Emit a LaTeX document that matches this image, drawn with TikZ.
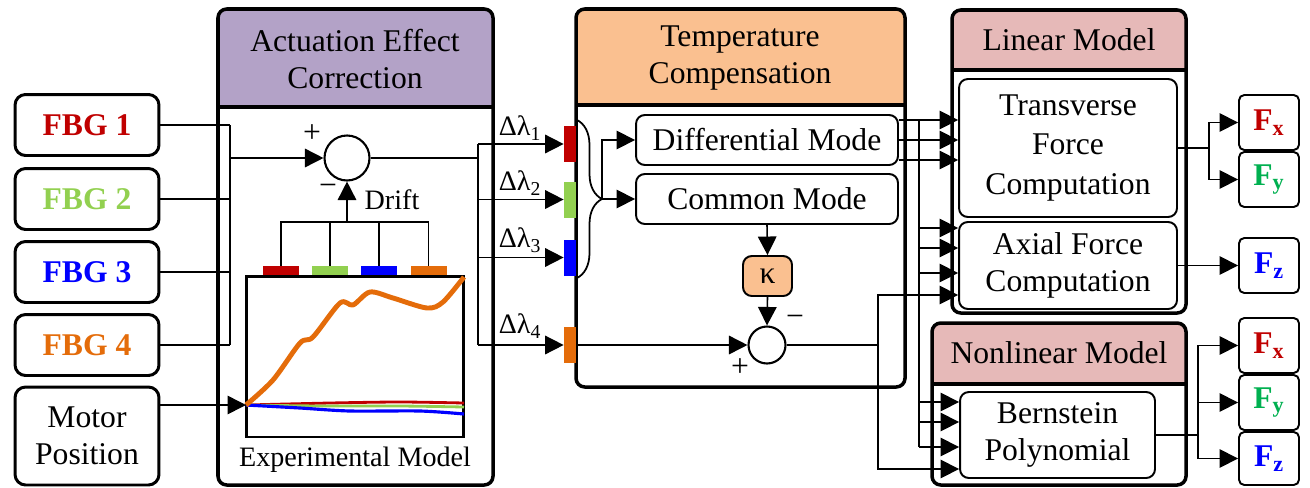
\documentclass[tikz,border=0pt]{standalone}
\usepackage{fontspec}
\setmainfont{Liberation Serif}
\usetikzlibrary{arrows.meta,decorations.pathreplacing,calc}

\definecolor{fbgred}{HTML}{C00000}
\definecolor{fbggreen}{HTML}{92D050}
\definecolor{fbgblue}{HTML}{0000FF}
\definecolor{fbgorange}{HTML}{E46C0A}
\definecolor{fgreen}{HTML}{00B050}
\definecolor{aechead}{HTML}{B3A2C7}
\definecolor{tchead}{HTML}{FAC090}
\definecolor{modhead}{HTML}{E6B9B8}

% box with a coloured title band: x1,y1,x2,y2,ysep,colour
\newcommand{\headbox}[6]{%
  \begin{scope}
    \clip[rounded corners=5pt] (#1,#2) rectangle (#3,#4);
    \fill[#6] (#1,#2) rectangle (#3,#5);
  \end{scope}
  \draw[line width=2pt] (#1,#5) -- (#3,#5);
  \draw[line width=2pt,rounded corners=5pt] (#1,#2) rectangle (#3,#4);
}

\begin{document}
\begin{tikzpicture}[x=0.02cm,y=-0.02cm,font=\fontsize{18}{21}\selectfont,
  arr/.style={-{Triangle[length=0.37cm,width=0.37cm]},line width=0.9pt},
  line/.style={line width=0.9pt},
  fbgbox/.style={draw,line width=1.7pt,rounded corners=6pt,minimum width=2.88cm,minimum height=1.22cm,font=\fontsize{18}{21}\selectfont\bfseries},
  inbox/.style={draw,line width=1.1pt,rounded corners=5pt,fill=white,align=center,inner sep=0pt},
  outbox/.style={draw,line width=1.1pt,rounded corners=3pt,minimum width=1.2cm,minimum height=1.1cm,inner sep=0pt,font=\fontsize{18}{21}\selectfont\bfseries},
  tab/.style={minimum width=0.24cm,minimum height=0.72cm,inner sep=0pt},
  bar/.style={minimum width=0.72cm,minimum height=0.18cm,inner sep=0pt},
  sum/.style={draw,circle,line width=1.2pt,inner sep=0pt},
  small/.style={font=\fontsize{16}{18}\selectfont}]
  \useasboundingbox (0,0) rectangle (1310,487);

  % frames
  \headbox{218}{9}{493}{485}{107}{aechead}
  \headbox{576}{9}{905}{387}{105}{tchead}
  \headbox{952}{10}{1186}{313}{70}{modhead}
  \headbox{932}{323}{1186}{485}{384}{modhead}
  \node[align=center] (aect) at (355,59) {Actuation Effect\\Correction};
  \node[align=center] (tct) at (740,58) {Temperature\\Compensation};
  \node (lint) at (1069,40) {Linear Model};
  \node (nlint) at (1059,353) {Nonlinear Model};

  % inputs
  \node[fbgbox,text=fbgred] (fbg1) at (87,125) {FBG 1};
  \node[fbgbox,text=fbggreen] (fbg2) at (87,199) {FBG 2};
  \node[fbgbox,text=fbgblue] (fbg3) at (87,272) {FBG 3};
  \node[fbgbox,text=fbgorange] (fbg4) at (87,345) {FBG 4};
  \node[fbgbox,minimum height=1.96cm,align=center,font=\fontsize{18}{21}\selectfont] (motor) at (87,436) {Motor\\Position};

  % actuation effect correction
  \node[sum,minimum size=0.9cm] (sum1) at (347,158) {};
  \node (p1) at (312,134) {+};
  \node (m1) at (328,190) {−};
  \node[small] (drift) at (392,200) {Drift};
  \node[draw,line width=1.7pt,minimum width=4.36cm,minimum height=3.22cm,inner sep=0pt] (expm) at (355,356.5) {};
  \node[small] (expl) at (355,460) {Experimental Model};
  \node[bar,fill=fbgred] (bar1) at (281,270.5) {};
  \node[bar,fill=fbggreen] (bar2) at (330,270.5) {};
  \node[bar,fill=fbgblue] (bar3) at (379,270.5) {};
  \node[bar,fill=fbgorange] (bar4) at (428.5,270.5) {};
  \coordinate (origin) at (246,405);
  \draw[fbgred,line width=1.6pt] plot[smooth] coordinates {(origin) (330,403) (400,402) (464,403)};
  \draw[fbggreen,line width=1.6pt] plot[smooth] coordinates {(origin) (320,406) (400,406) (464,407)};
  \draw[fbgblue,line width=1.8pt] plot[smooth] coordinates {(origin) (300,408) (350,411) (420,411) (464,414)};
  \draw[fbgorange,line width=2.8pt,line join=round] plot[smooth] coordinates {(origin) (273,380) (300,343) (313,337) (340,303) (353,305) (370,292) (393,298) (427,308) (443,302) (464,277)};

  % temperature compensation
  \node[tab,fill=fbgred] (tab1) at (570,144) {};
  \node[tab,fill=fbggreen] (tab2) at (570,199.5) {};
  \node[tab,fill=fbgblue] (tab3) at (570,257.5) {};
  \node[tab,fill=fbgorange] (tab4) at (570,345) {};
  \node[small] (dl1) at (520,128) {Δλ\textsubscript{1}};
  \node[small] (dl2) at (520,183) {Δλ\textsubscript{2}};
  \node[small] (dl3) at (520,240) {Δλ\textsubscript{3}};
  \node[small] (dl4) at (520,326) {Δλ\textsubscript{4}};
  \node[inbox,minimum width=5.24cm,minimum height=1cm] (diff) at (767,140) {Differential Mode};
  \node[inbox,minimum width=5.24cm,minimum height=1cm] (common) at (767,199) {Common Mode};
  \node[inbox,fill=tchead,minimum width=0.98cm,minimum height=0.8cm] (kap) at (767.5,276) {κ};
  \node[sum,minimum size=0.74cm] (sum2) at (767,345) {};
  \node (m2) at (795,321) {−};
  \node (p2) at (740,368) {+};
  \draw[line width=1pt,decorate,decoration={brace,amplitude=0.5cm}] (577,120) -- (577,278);
  \coordinate (brtip) at (602,199);

  % linear and nonlinear models
  \node[inbox,minimum width=4.36cm,minimum height=2.76cm,font=\fontsize{18}{22.5}\selectfont] (trans) at (1068,148) {Transverse\\Force\\Computation};
  \node[inbox,minimum width=4.36cm,minimum height=1.74cm] (axial) at (1068,265.5) {Axial Force\\Computation};
  \node[inbox,minimum width=3.9cm,minimum height=1.72cm] (bern) at (1057.5,435) {Bernstein\\Polynomial};
  \node[outbox,text=fbgred] (fx1) at (1269,122.5) {F\textsubscript{x}};
  \node[outbox,text=fgreen] (fy1) at (1269,179.5) {F\textsubscript{y}};
  \node[outbox,text=fbgblue] (fz1) at (1269,265.5) {F\textsubscript{z}};
  \node[outbox,text=fbgred] (fx2) at (1269,345.5) {F\textsubscript{x}};
  \node[outbox,text=fgreen] (fy2) at (1269,402.5) {F\textsubscript{y}};
  \node[outbox,text=fbgblue,minimum height=1.06cm] (fz2) at (1269,458.5) {F\textsubscript{z}};

  % connectors, left part
  \coordinate (fbus) at (230,158);
  \foreach \i in {1,...,4} \draw[line] (fbg\i.east) -- (fbg\i.east -| fbus);
  \draw[line] (fbus |- fbg1.east) -- (fbus |- fbg4.east);
  \draw[arr] (fbus) -- (sum1.west);
  \draw[arr] (motor.east |- origin) -- (origin);
  \draw[line] (bar1.north) |- (bar4.north |- 0,222) -- (bar4.north);
  \draw[line] (bar2.north) -- (bar2.north |- 0,222);
  \draw[line] (bar3.north) -- (bar3.north |- 0,222);
  \draw[arr] (sum1.south |- 0,222) -- (sum1.south);
  \coordinate (obus) at (478,158);
  \draw[line] (sum1.east) -- (obus);
  \draw[line] (obus |- tab1.west) -- (obus |- tab4.west);
  \foreach \i in {1,...,4} \draw[arr] (obus |- tab\i.west) -- (tab\i.west);

  % connectors, middle part
  \draw[arr] (brtip) -- (common.west);
  \draw[arr] (brtip) |- (diff.west);
  \draw[arr] (common.south) -- (kap.north);
  \draw[arr] (kap.south) -- (sum2.north);
  \draw[arr] (tab4.east) -- (sum2.west);
  \coordinate (tcout) at (878,345);
  \draw[line] (sum2.east) -- (tcout);
  \draw[arr] (tcout) |- (axial.west |- 0,295);
  \draw[arr] (tcout) |- (bern.west |- 0,469);
  \foreach \y in {120,140,160} \draw[arr] (diff.east |- 0,\y) -- (trans.west |- 0,\y);
  \coordinate (bustop) at (919,120);
  \draw[line] (bustop) -- (919,447);
  \foreach \y in {228,248,273} \draw[arr] (919,\y) -- (axial.west |- 0,\y);
  \foreach \y in {402,422,447} \draw[arr] (919,\y) -- (bern.west |- 0,\y);

  % connectors, outputs
  \coordinate (tsplit) at ($(trans.east)+(31,0)$);
  \draw[line] (trans.east) -- (tsplit);
  \draw[arr] (tsplit) |- (fx1.west);
  \draw[arr] (tsplit) |- (fy1.west);
  \draw[arr] (axial.east) -- (fz1.west);
  \coordinate (bsplit) at ($(bern.east)+(42,0)$);
  \draw[line] (bern.east) -- (bsplit);
  \draw[arr] (bsplit) |- (fx2.west);
  \draw[arr] (bsplit) |- (fy2.west);
  \draw[arr] (bsplit) |- (fz2.west);
\end{tikzpicture}
\end{document}
